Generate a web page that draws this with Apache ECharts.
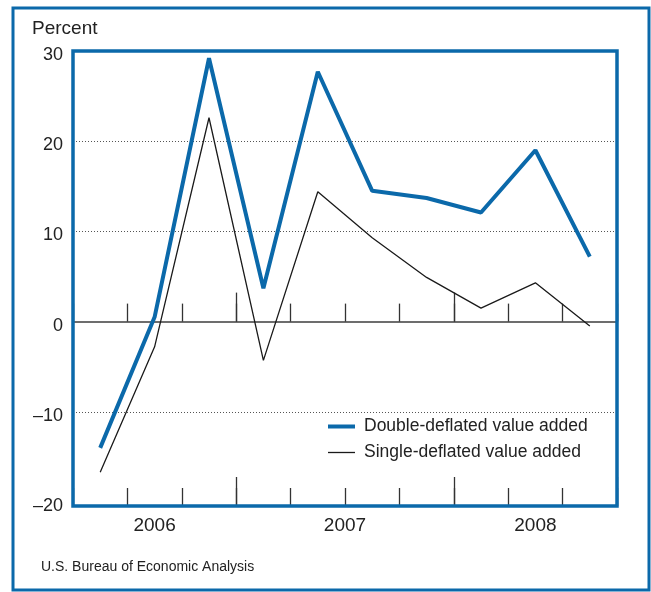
<!DOCTYPE html>
<html>
<head>
<meta charset="utf-8">
<script src="https://cdn.jsdelivr.net/npm/echarts@6/dist/echarts.min.js"></script>
<style>
  html, body { margin: 0; padding: 0; background: #ffffff; }
  #chart { width: 651px; height: 592px; }
</style>
</head>
<body>
<div id="chart"></div>
<script>
// ---- data ----
const categories = ['2006Q2','2006Q3','2006Q4','2007Q1','2007Q2','2007Q3','2007Q4','2008Q1','2008Q2','2008Q3'];
const doubleDeflated = [-14.0, 0.5, 29.2, 3.7, 27.7, 14.5, 13.7, 12.1, 19.0, 7.2];
const singleDeflated = [-16.7, -2.8, 22.6, -4.3, 14.4, 9.3, 4.9, 1.5, 4.3, -0.5];
const seriesNames = ['Double-deflated value added', 'Single-deflated value added'];
const yTicks = [-20, -10, 0, 10, 20, 30];
const yearLabels = ['2006', '2007', '2008'];
const unitLabel = 'Percent';
const sourceText = 'U.S. Bureau of Economic Analysis';

// ---- derived ----
const years = categories.map(c => c.slice(0, 4));
const yearCenters = {};
yearLabels.forEach(y => {
  const idx = years.map((v, i) => v === y ? i : -1).filter(i => i >= 0);
  yearCenters[((idx[0] + idx[idx.length - 1]) / 2 + 0.5).toFixed(2)] = y;
});
const yearStartIdx = categories.map((c, i) => (c.endsWith('Q1') ? i : -1)).filter(i => i >= 0);

const BLUE = '#0b69aa';
const INK = '#1a1a1a';
const FONT = '"Liberation Sans", Arial, sans-serif';

const chart = echarts.init(document.getElementById('chart'), null, { renderer: 'canvas' });

const tickAxis = (opts) => Object.assign({
  type: 'category',
  data: categories,
  boundaryGap: true,
  position: 'bottom',
  axisLabel: { show: false },
  splitLine: { show: false }
}, opts);
const tickStyle = { color: '#333', width: 1.3 };

const splitColors = yTicks.map((v, i) => (i === 0 || i === yTicks.length - 1) ? 'rgba(0,0,0,0)' : '#555');

const option = {
  backgroundColor: '#ffffff',
  animation: false,
  title: [
    { text: unitLabel, left: 27, top: 14, textStyle: { fontFamily: FONT, fontSize: 19, fontWeight: 'normal', color: '#222' } },
    { text: sourceText, left: 36, top: 555, textStyle: { fontFamily: FONT, fontSize: 14, fontWeight: 'normal', color: '#222' } }
  ],
  grid: { left: 73, right: 34, top: 51, bottom: 90, containLabel: false },
  legend: {
    orient: 'vertical',
    left: 328,
    top: 417.5,
    padding: 0,
    itemWidth: 27,
    itemHeight: 14,
    itemGap: 8,
    data: [
      { name: seriesNames[0], icon: 'path://M0,0 L270,0 L270,40 L0,40 Z', itemStyle: { color: BLUE } },
      { name: seriesNames[1], icon: 'path://M0,0 L270,0 L270,13 L0,13 Z', itemStyle: { color: INK } }
    ],
    textStyle: { fontFamily: FONT, fontSize: 17.5, color: '#222', padding: [0, 0, 0, 4] }
  },
  xAxis: [
    // 0: main axis at zero with minor ticks
    tickAxis({
      axisLine: { show: true, onZero: true, onZeroAxisIndex: 0, lineStyle: { color: '#6d6d6d', width: 2 } },
      axisTick: { show: true, inside: true, length: 18, interval: 0, lineStyle: tickStyle }
    }),
    // 1: zero line tall ticks at year boundaries
    tickAxis({
      axisLine: { show: false, onZero: true, onZeroAxisIndex: 1 },
      axisTick: { show: true, inside: true, length: 29, interval: (i) => yearStartIdx.includes(i), lineStyle: tickStyle }
    }),
    // 2: bottom minor ticks
    tickAxis({
      offset: 4,
      axisLine: { show: false, onZero: false },
      axisTick: { show: true, inside: true, length: 18, interval: 0, lineStyle: tickStyle }
    }),
    // 3: bottom tall ticks
    tickAxis({
      offset: 4,
      axisLine: { show: false, onZero: false },
      axisTick: { show: true, inside: true, length: 29, interval: (i) => yearStartIdx.includes(i), lineStyle: tickStyle }
    }),
    // 4: year labels
    {
      type: 'value',
      min: 0,
      max: categories.length,
      interval: 0.5,
      position: 'bottom',
      axisLine: { show: false, onZero: false },
      axisTick: { show: false },
      splitLine: { show: false },
      axisLabel: {
        show: true,
        margin: 14,
        fontFamily: FONT,
        fontSize: 19,
        color: '#222',
        formatter: (v) => yearCenters[v.toFixed(2)] || ''
      }
    }
  ],
  yAxis: [
    {
      type: 'value',
      min: yTicks[0],
      max: yTicks[yTicks.length - 1],
      interval: 10,
      axisLine: { show: false },
      axisTick: { show: false },
      axisLabel: {
        margin: 10,
        fontFamily: FONT,
        fontSize: 18,
        color: '#222',
        verticalAlign: 'top',
        lineHeight: 8,
        formatter: (v) => (v < 0 ? '\u2013' + Math.abs(v) : String(v))
      },
      splitLine: { show: true, lineStyle: { color: splitColors, width: 1, type: [1, 2] } }
    },
    {
      type: 'value',
      min: yTicks[0],
      max: yTicks[yTicks.length - 1],
      interval: 10,
      show: false
    }
  ],
  series: [
    {
      name: seriesNames[0],
      type: 'line',
      xAxisIndex: 0,
      yAxisIndex: 0,
      data: doubleDeflated,
      symbol: 'none',
      lineStyle: { color: BLUE, width: 4 },
      itemStyle: { color: BLUE },
      z: 4
    },
    {
      name: seriesNames[1],
      type: 'line',
      xAxisIndex: 0,
      yAxisIndex: 0,
      data: singleDeflated,
      symbol: 'none',
      lineStyle: { color: INK, width: 1.3 },
      itemStyle: { color: INK },
      z: 3
    }
  ],
  graphic: [
    { type: 'rect', z: 100, silent: true, shape: { x: 13, y: 8, width: 636, height: 582 }, style: { fill: 'none', stroke: BLUE, lineWidth: 3 } },
    { type: 'rect', z: 100, silent: true, shape: { x: 73, y: 51, width: 544, height: 455 }, style: { fill: 'none', stroke: BLUE, lineWidth: 3.5 } }
  ]
};

chart.setOption(option);
</script>
</body>
</html>
